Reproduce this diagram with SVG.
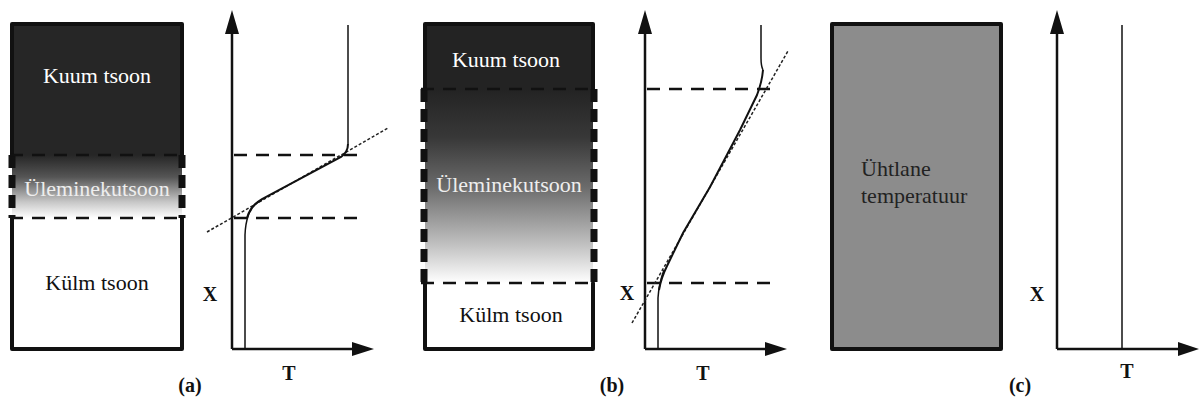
<svg xmlns="http://www.w3.org/2000/svg" width="1200" height="401" viewBox="0 0 1200 401">
<style>
.lbl{font-family:'Liberation Serif','DejaVu Serif','Times New Roman',serif;font-size:22px}
.ax{font-family:'Liberation Serif','DejaVu Serif','Times New Roman',serif;font-size:20px;font-weight:bold;fill:#111}
.box{stroke:#111;stroke-width:4;stroke-linejoin:round;stroke-linecap:round;fill:none}
.side{stroke:#111;stroke-width:7;stroke-dasharray:13,7;fill:none}
.dash{stroke:#111;stroke-width:2.5;stroke-dasharray:13,9;fill:none}
.dot{stroke:#222;stroke-width:1.5;stroke-dasharray:3,2;fill:none}
.axis{stroke:#111;stroke-width:2.5;fill:none}
.curve{stroke:#111;stroke-width:2;fill:none}
.thin{stroke:#111;stroke-width:1.5;fill:none}
.head{fill:#111}
</style>
<defs>
<linearGradient id="ga" x1="0" y1="0" x2="0" y2="1">
<stop offset="0" stop-color="#262626"/>
<stop offset="0.35" stop-color="#555"/>
<stop offset="0.75" stop-color="#c8c8c8"/>
<stop offset="1" stop-color="#fff"/>
</linearGradient>
<linearGradient id="gb" x1="0" y1="0" x2="0" y2="1">
<stop offset="0" stop-color="#232323"/>
<stop offset="0.25" stop-color="#383838"/>
<stop offset="0.5" stop-color="#6a6a6a"/>
<stop offset="0.8" stop-color="#c0c0c0"/>
<stop offset="1" stop-color="#fff"/>
</linearGradient>
</defs>

<g id="panel-a-box">
<rect x="12" y="24" width="170" height="131" fill="#262626"/>
<rect x="12" y="155" width="170" height="63" fill="url(#ga)"/>
<rect x="12" y="218" width="170" height="131" fill="#fff"/>
<path class="box" d="M12,155 L12,24 L182,24 L182,155 M12,218 L12,349 L182,349 L182,218"/>
<path class="side" d="M12,155 L12,218 M182,155 L182,218"/>
<path class="dash" d="M10,155 L186,155 M10,218 L186,218"/>
<text class="lbl" x="97" y="83" text-anchor="middle" fill="#fff">Kuum tsoon</text>
<text class="lbl" x="97" y="196" text-anchor="middle" fill="#eee">Üleminekutsoon</text>
<text class="lbl" x="97" y="290" text-anchor="middle" fill="#111">Külm tsoon</text>
</g>

<g id="panel-b-box">
<rect x="425" y="24" width="168" height="65" fill="#232323"/>
<rect x="425" y="89" width="168" height="194" fill="url(#gb)"/>
<rect x="425" y="283" width="168" height="66" fill="#fff"/>
<path class="box" d="M425,89 L425,24 L593,24 L593,89 M425,283 L425,349 L593,349 L593,283"/>
<path class="side" d="M424,89 L424,283 M594,89 L594,283"/>
<path class="dash" d="M421,89 L597,89 M421,283 L597,283"/>
<text class="lbl" x="506" y="67" text-anchor="middle" fill="#fff">Kuum tsoon</text>
<text class="lbl" x="509" y="192" text-anchor="middle" fill="#eee">Üleminekutsoon</text>
<text class="lbl" x="511" y="322" text-anchor="middle" fill="#111">Külm tsoon</text>
</g>

<g id="panel-c-box">
<rect x="832" y="24" width="169" height="325" class="box" style="fill:#8c8c8c"/>
<text class="lbl" x="861" y="176" fill="#222">Ühtlane</text>
<text class="lbl" x="861" y="203" fill="#222">temperatuur</text>
</g>

<g id="panel-a-graph">
<path class="axis" d="M232,349 L232,30 M232,349 L356,349"/>
<path class="head" d="M232,10 L239,34 L225,34 Z M374,349 L352,342 L352,356 Z"/>
<path class="dash" d="M234,155 L362,155 M234,218 L362,218"/>
<path class="dot" d="M207,232 L388,128"/>
<path class="thin" d="M348,25 L348,144"/>
<path class="curve" d="M348,144 Q348,152 341,157 L262,199 Q250,206 247,218"/>
<path class="thin" d="M258,202 Q246,210 245,235 L245,349 M262,200 Q252,205 250,212"/>
<text class="ax" x="210" y="301" text-anchor="middle">X</text>
<text class="ax" x="289" y="380" text-anchor="middle" font-size="18">T</text>
<text class="ax" x="190" y="392" text-anchor="middle" font-size="19">(a)</text>
</g>

<g id="panel-b-graph">
<path class="axis" d="M645,349 L645,30 M645,349 L768,349"/>
<path class="head" d="M645,10 L652,34 L638,34 Z M787,349 L765,342 L765,356 Z"/>
<path class="dash" d="M647,89 L777,89 M647,283 L777,283"/>
<path class="dot" d="M632,323 L788,51"/>
<path class="thin" d="M761,25 L761,58 Q761,66 763,70"/>
<path class="curve" d="M763,70 Q762,82 757,95 L740,130 L710,187 L683,233 L667,266 Q661,278 659,290"/>
<path class="thin" d="M664,270 Q659,283 658,298 L658,349"/>
<text class="ax" x="627" y="300" text-anchor="middle">X</text>
<text class="ax" x="703" y="380" text-anchor="middle" font-size="18">T</text>
<text class="ax" x="612" y="392" text-anchor="middle" font-size="19">(b)</text>
</g>

<g id="panel-c-graph">
<path class="axis" d="M1057,349 L1057,30 M1057,349 L1180,349"/>
<path class="head" d="M1057,10 L1064,34 L1050,34 Z M1199,349 L1178,342 L1178,356 Z"/>
<path class="thin" d="M1122,25 L1122,349"/>
<text class="ax" x="1037" y="301" text-anchor="middle">X</text>
<text class="ax" x="1127" y="378" text-anchor="middle" font-size="18">T</text>
<text class="ax" x="1020" y="392" text-anchor="middle" font-size="19">(c)</text>
</g>
</svg>
